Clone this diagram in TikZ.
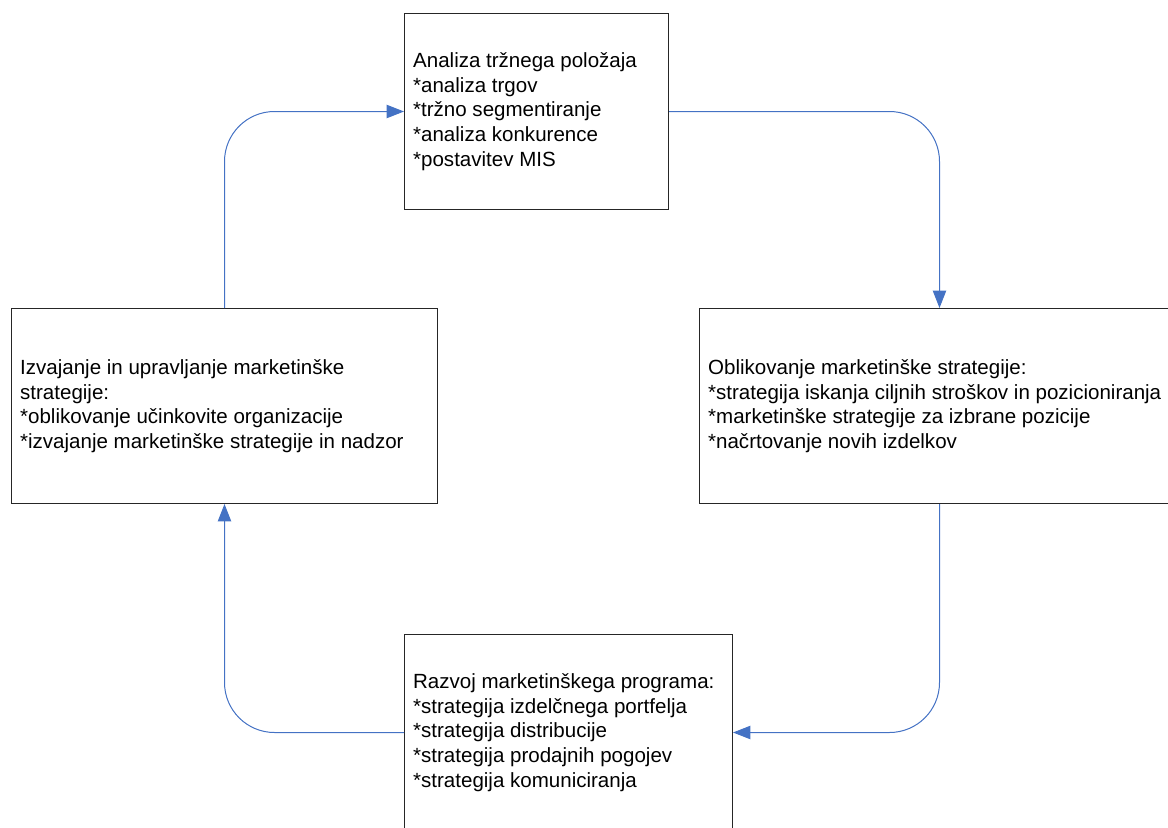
\documentclass[tikz,border=0pt]{standalone}
\usepackage{fontspec}
\setmainfont{Liberation Sans}
\usetikzlibrary{arrows.meta}
\definecolor{flowblue}{RGB}{68,114,196}

\begin{document}
\begin{tikzpicture}[x=0.75pt,y=-0.75pt,
  box/.style={draw=black!85,line width=0.75pt,align=flush left,anchor=north west,
    inner xsep=6.5pt,font=\fontsize{15.4}{18.5}\selectfont},
  flow/.style={draw=flowblue,line width=0.75pt,rounded corners=37.5pt,
    -{Triangle[length=13pt,width=10pt,fill=flowblue]}}]

\useasboundingbox (0,0) rectangle (1168,828);

% Boxes
\node[box,text width=185pt,minimum height=147pt] (analiza) at (404,13)
  {Analiza tržnega položaja\\{}*analiza trgov\\{}*tržno segmentiranje\\{}*analiza konkurence\\{}*postavitev MIS};
\node[box,text width=347pt,minimum height=146.25pt] (oblikovanje) at (699,308)
  {Oblikovanje marketinške strategije:\\{}*strategija iskanja ciljnih stroškov in pozicioniranja\\{}*marketinške strategije za izbrane pozicije\\{}*načrtovanje novih izdelkov};
\node[box,text width=233pt,minimum height=147pt] (razvoj) at (404,634)
  {Razvoj marketinškega programa:\\{}*strategija izdelčnega portfelja\\{}*strategija distribucije\\{}*strategija prodajnih pogojev\\{}*strategija komuniciranja};
\node[box,text width=306.5pt,minimum height=146.25pt] (izvajanje) at (11,308)
  {Izvajanje in upravljanje marketinške\\strategije:\\{}*oblikovanje učinkovite organizacije\\{}*izvajanje marketinške strategije in nadzor};

% Connectors
\draw[flow] (analiza.east) -| (oblikovanje.north);
\draw[flow] (oblikovanje.south) |- (razvoj.east);
\draw[flow] (razvoj.west) -| (izvajanje.south);
\draw[flow] (izvajanje.north) |- (analiza.west);

\end{tikzpicture}
\end{document}
